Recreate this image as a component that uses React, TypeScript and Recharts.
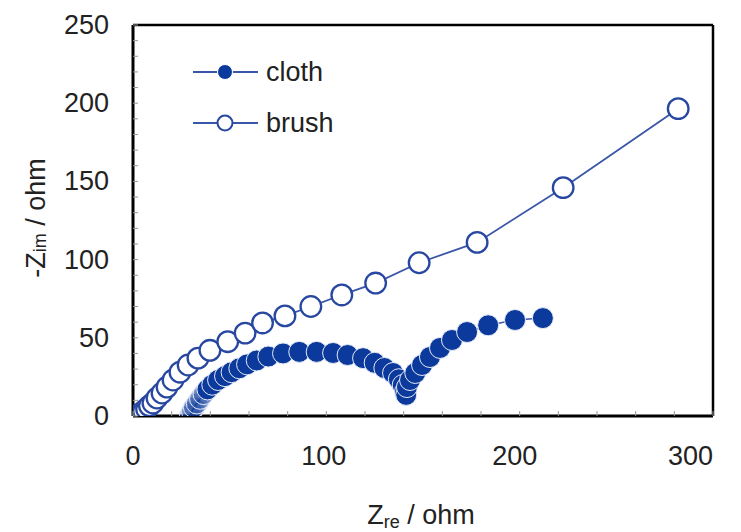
import React from "react";
import {
  ScatterChart,
  Scatter,
  XAxis,
  YAxis,
  Legend,
  ReferenceLine,
} from "recharts";

// Nyquist data (ohm)
const clothZre = [
  29.5, 30.5, 31.5, 33, 34.7, 36.5, 38.5, 41, 44, 47.6, 51, 55, 59, 64, 70, 77.6,
  86, 95, 103.5, 111, 119, 125, 130, 134.5, 137.5, 139.5, 140.7, 141.3, 141.7,
  143.3, 146, 149.5, 153.6, 158.8, 165, 172.8, 183.7, 197.6, 212,
];
const clothZim = [
  0.5, 3, 5.5, 8, 11, 14, 17, 20, 23, 25.5, 28, 30.5, 33, 35.5, 38, 40, 41, 41,
  40.3, 39, 37, 34, 30.7, 27.5, 23.5, 19.8, 15.5, 13.5, 18.5, 23, 27.5, 32.6,
  37.7, 43.5, 48.6, 53.7, 58, 61.4, 62.6,
];
const brushZre = [
  2.5, 4, 5.5, 7, 8.5, 10.3, 12.4, 15, 17.6, 20.7, 24.3, 28.5, 33.6, 39.8, 49,
  58, 67, 78.6, 92, 108, 125.5, 148, 178, 222.5, 282,
];
const brushZim = [
  0.5, 1.5, 3, 4.5, 6.5, 8.3, 11.5, 14.7, 18.5, 23, 28, 32.6, 37, 42, 47.5, 53,
  59.5, 64, 70, 77.4, 85, 98, 111, 146, 196.5,
];
const xTicks = [0, 20, 40, 60, 80, 100, 120, 140, 160, 180, 200, 220, 240, 260, 280, 300];
const yTicks = [0, 10, 20, 30, 40, 50, 60, 70, 80, 90, 100, 110, 120, 130, 140, 150, 160, 170, 180, 190, 200, 210, 220, 230, 240, 250];
const seriesNames = ["cloth", "brush"];

const cloth = clothZre.map((x, i) => ({ x, y: clothZim[i], i }));
const brush = brushZre.map((x, i) => ({ x, y: brushZim[i], i }));

const FONT = '"Liberation Sans", Arial, sans-serif';
const TXT = "#222";
const DARK = "#0c3a9c";
const RING = "#2847a0";
const LINE = "#3a56a8";

const ClothDot = (props: any) => {
  const { cx, cy, payload } = props;
  const faded = payload && payload.i < 6;
  return (
    <circle
      cx={cx}
      cy={cy}
      r={10.5}
      fill={DARK}
      fillOpacity={faded ? 0.35 : 1}
      stroke="#e4eaf7"
      strokeWidth={1}
    />
  );
};

const BrushDot = (props: any) => {
  const { cx, cy } = props;
  return <circle cx={cx} cy={cy} r={10.3} fill="#fff" stroke={RING} strokeWidth={2.3} />;
};

const XTick = (props: any) => {
  const { x, y, payload } = props;
  const v = payload.value;
  const major = v % 100 === 0;
  const last = v === xTicks[xTicks.length - 1];
  return (
    <g>
      <line x1={x} y1={y} x2={x} y2={y - 5} stroke="#999" strokeWidth={1} />
      {major && (
        <text
          x={last ? x : x - v / 40}
          y={y + 40}
          textAnchor={last ? "end" : "middle"}
          dominantBaseline="central"
          fontSize={27}
          fill={TXT}
          fontFamily={FONT}
        >
          {v}
        </text>
      )}
    </g>
  );
};

const YTick = (props: any) => {
  const { x, y, payload } = props;
  const major = payload.value % 50 === 0;
  return (
    <g>
      <line x1={x} y1={y} x2={x + 5} y2={y} stroke="#999" strokeWidth={1} />
      {major && (
        <text x={x - 24} y={y} textAnchor="end" dominantBaseline="central" fontSize={27} fill={TXT} fontFamily={FONT}>
          {payload.value}
        </text>
      )}
    </g>
  );
};

const XTitle = () => (
  <text x={421} y={524} textAnchor="middle" fontSize={27} fill={TXT} fontFamily={FONT}>
    Z<tspan fontSize={18} dy={4}>re</tspan>
    <tspan dy={-4}> / ohm</tspan>
  </text>
);

const YTitle = () => (
  <text
    x={36}
    y={218}
    transform="rotate(-90, 36, 218)"
    textAnchor="middle"
    dominantBaseline="central"
    fontSize={27}
    fill={TXT}
    fontFamily={FONT}
  >
    -Z<tspan fontSize={18} dy={4}>im</tspan>
    <tspan dy={-4}> / ohm</tspan>
  </text>
);

const LegendBox = () => (
  <svg width={220} height={110}>
    {seriesNames.map((name, k) => {
      const cy = 26 + k * 51;
      return (
        <g key={name}>
          <line x1={3} y1={cy} x2={68} y2={cy} stroke={LINE} strokeWidth={1.8} />
          {k === 0 ? (
            <circle cx={35} cy={cy} r={7.5} fill={DARK} stroke="#fff" strokeWidth={1} />
          ) : (
            <circle cx={35} cy={cy} r={7.5} fill="#fff" stroke={RING} strokeWidth={2} />
          )}
          <text x={76} y={cy} dominantBaseline="central" fontSize={27} fill={TXT} fontFamily={FONT}>
            {name}
          </text>
        </g>
      );
    })}
  </svg>
);

export default function App() {
  return (
    <div style={{ position: "absolute", left: 0, top: 0, width: 741, height: 532, background: "#fff" }}>
      <ScatterChart width={741} height={532} margin={{ top: 25, right: 28, bottom: 0, left: 0 }}>
        <XAxis
          dataKey="x"
          type="number"
          domain={[0, 300]}
          ticks={xTicks}
          interval={0}
          allowDataOverflow
          height={116}
          tickSize={0}
          tickMargin={0}
          tick={<XTick />}
          axisLine={{ stroke: "#000", strokeWidth: 3 }}
          label={<XTitle />}
        />
        <YAxis
          dataKey="y"
          type="number"
          domain={[0, 250]}
          ticks={yTicks}
          interval={0}
          allowDataOverflow
          width={133}
          tickSize={0}
          tickMargin={0}
          tick={<YTick />}
          axisLine={{ stroke: "#000", strokeWidth: 3 }}
          label={<YTitle />}
        />
        <ReferenceLine y={250} stroke="#000" strokeWidth={2.5} ifOverflow="visible" />
        <ReferenceLine x={300} stroke="#000" strokeWidth={2.5} ifOverflow="visible" />
        <Legend
          layout="vertical"
          verticalAlign="middle"
          align="center"
          wrapperStyle={{ top: 46, left: 190, width: 220 }}
          content={() => <LegendBox />}
        />
        <Scatter
          name="cloth"
          data={cloth}
          line={{ stroke: LINE, strokeWidth: 1.5 }}
          lineJointType="linear"
          shape={<ClothDot />}
          isAnimationActive={false}
        />
        <Scatter
          name="brush"
          data={brush}
          line={{ stroke: LINE, strokeWidth: 1.8 }}
          lineJointType="linear"
          shape={<BrushDot />}
          isAnimationActive={false}
        />
      </ScatterChart>
    </div>
  );
}
